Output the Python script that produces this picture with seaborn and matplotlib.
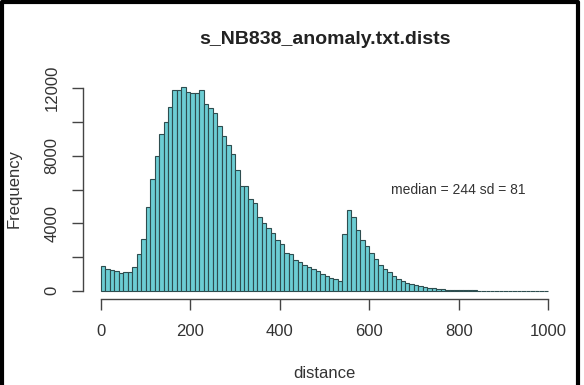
import numpy as np
import pandas as pd
import matplotlib
matplotlib.use('Agg')
import matplotlib.pyplot as plt
from matplotlib.lines import Line2D
import seaborn as sns

# histogram counts per 10-unit bin, 0..1000
bin_start = list(range(0, 1000, 10))
counts = [1500, 1270, 1250, 1190, 1030, 1090, 1100, 1430, 2180, 3060,
          4940, 6620, 7990, 9270, 9980, 10910, 11900, 11900, 12080, 11760,
          11700, 11700, 11880, 11050, 10820, 10500, 9770, 9180, 8640, 8110,
          7160, 6210, 6210, 5420, 5180, 4390, 3990, 3740, 3450, 3000,
          2750, 2260, 2170, 1830, 1710, 1520, 1400, 1270, 1200, 990,
          860, 780, 680, 590, 3380, 4800, 4370, 3620, 3030, 2650,
          2260, 1870, 1520, 1270, 1120, 870, 730, 590, 480, 380,
          340, 280, 210, 170, 140, 110, 90, 70, 58, 48,
          40, 34, 28, 24, 20, 17, 14, 12, 10, 9,
          8, 7, 6, 5, 4, 3, 3, 2, 2, 1]
x_ticks = [0, 200, 400, 600, 800, 1000]
y_ticks = [0, 2000, 4000, 6000, 8000, 10000, 12000]
y_labels = ['0', '', '4000', '', '8000', '', '12000']
title = 's_NB838_anomaly.txt.dists'
note = 'median = 244 sd = 81'

df = pd.DataFrame({'mid': [b + 5 for b in bin_start], 'n': counts})

sns.set_style('white')
plt.rcParams['font.family'] = ['Liberation Sans', 'DejaVu Sans']
txt = '#333333'

fig = plt.figure(figsize=(5.84, 3.85), dpi=100)
ax = fig.add_axes([83 / 584, 1 - 299 / 385, (566 - 83) / 584, (299 - 79) / 385])

sns.histplot(data=df, x='mid', weights='n', binwidth=10, binrange=(0, 1000),
             color='#6ccdd3', alpha=1, edgecolor='#2e4d4f', linewidth=0.8, ax=ax)

ax.set_xlim(-40, 1040)
ax.set_ylim(-482, 12542)
for s in ['top', 'right']:
    ax.spines[s].set_visible(False)
ax.spines['left'].set_bounds(0, 12000)
ax.spines['bottom'].set_bounds(0, 1000)
for s in ['left', 'bottom']:
    ax.spines[s].set_color('#444444')
    ax.spines[s].set_linewidth(1.0)

ax.set_xticks(x_ticks)
ax.set_xticklabels([str(v) for v in x_ticks])
ax.set_yticks(y_ticks)
ax.set_yticklabels(y_labels, rotation=90, va='center')
ax.tick_params(axis='both', direction='out', length=8, width=1, color='#444444',
               labelsize=12, labelcolor=txt, bottom=True, left=True)
ax.tick_params(axis='x', pad=10)
ax.tick_params(axis='y', pad=9)

ax.set_xlabel('distance', fontsize=12, color=txt)
ax.set_ylabel('Frequency', fontsize=12, color=txt)
ax.xaxis.set_label_coords(0.5, -0.305)
ax.yaxis.set_label_coords(-0.128, 0.5)

ax.text(800, 6000, note, fontsize=10, color=txt, ha='center', va='center')
fig.text(0.557, 1 - 40 / 385, title, fontsize=14, fontweight='bold',
         color='#222222', ha='center', va='center')

# black frame around the picture (left, top, right)
fx = [1.5 / 584, 1.5 / 584, 577.5 / 584, 577.5 / 584]
fy = [0, 1 - 1.5 / 385, 1 - 1.5 / 385, 0]
fig.add_artist(Line2D(fx, fy, transform=fig.transFigure, color='black', lw=3))

fig.savefig('out.png', dpi=100)
